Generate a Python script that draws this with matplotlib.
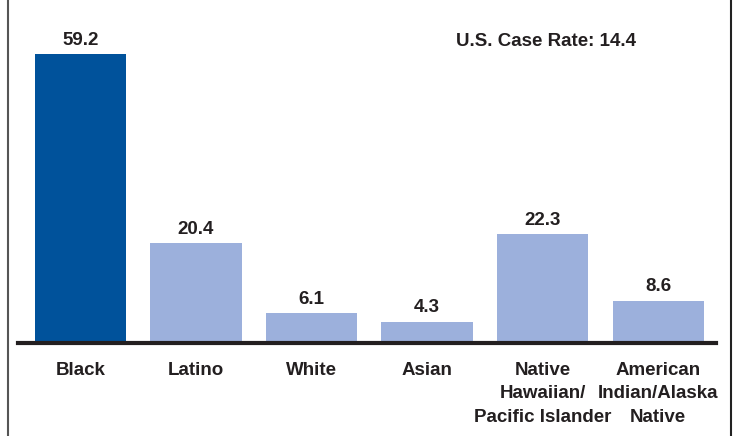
import matplotlib.pyplot as plt
from matplotlib.lines import Line2D

groups = ['Black', 'Latino', 'White', 'Asian',
          'Native\nHawaiian/\nPacific Islander', 'American\nIndian/Alaska\nNative']
rates = [59.2, 20.4, 6.1, 4.3, 22.3, 8.6]
us_rate = 14.4

dark = '#00529b'
light = '#9cb0dc'
txt = '#231f20'
colors = [dark] + [light] * (len(rates) - 1)

plt.rcParams['font.family'] = ['Liberation Sans', 'DejaVu Sans']

fig = plt.figure(figsize=(7.38, 4.36), dpi=100)
ax = fig.add_axes([18 / 738, 93 / 436, 698 / 738, 343 / 436])

x = list(range(len(rates)))
ax.bar(x, rates, width=0.79, color=colors)
for xi, v in zip(x, rates):
    ax.annotate(f'{v}', (xi, v), xytext=(0, 4), textcoords='offset points',
                ha='center', va='bottom', fontsize=13.5, fontweight='bold', color=txt)

ax.set_xlim(-0.54, 5.5)
ax.set_ylim(0, 70.3)
ax.set_yticks([])
ax.set_xticks([])

# category labels, one text per line so the wrapped names sit like the original
for xi, g in zip(x, groups):
    for k, line in enumerate(g.split('\n')):
        ax.annotate(line, (xi, 0), xytext=(0, -19.5 - 17 * k), textcoords='offset points',
                    ha='center', va='center', fontsize=13.5, fontweight='bold',
                    color=txt, annotation_clip=False)

for s in ['top', 'left', 'right']:
    ax.spines[s].set_visible(False)
ax.spines['bottom'].set_linewidth(3)
ax.spines['bottom'].set_color(txt)

ax.text(546 / 698 - 18 / 698, 1 - 42 / 343, f'U.S. Case Rate: {us_rate}',
        transform=ax.transAxes, ha='center', va='center',
        fontsize=13.5, fontweight='bold', color=txt)

# frame lines at the sides
fig.add_artist(Line2D([8 / 738, 8 / 738], [0, 1], color='#555555', lw=1.5))
fig.add_artist(Line2D([731 / 738, 731 / 738], [0, 1], color='#222222', lw=1.5))

fig.savefig('out.png', dpi=100)
